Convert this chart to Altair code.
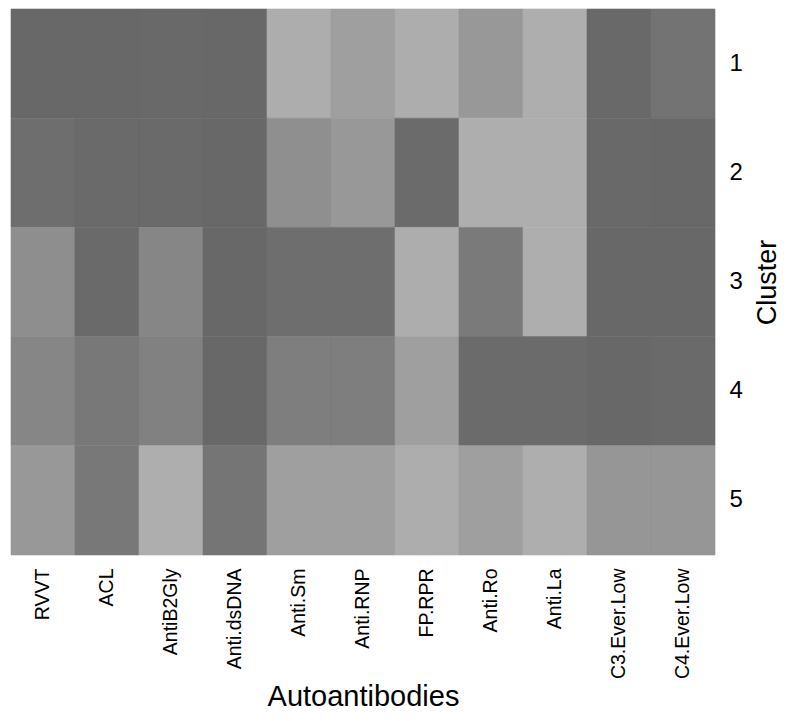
import altair as alt
import pandas as pd

antibodies = ["RVVT", "ACL", "AntiB2Gly", "Anti.dsDNA", "Anti.Sm", "Anti.RNP",
              "FP.RPR", "Anti.Ro", "Anti.La", "C3.Ever.Low", "C4.Ever.Low"]
clusters = ["1", "2", "3", "4", "5"]

c1 = [0.00, 0.00, 0.01, 0.00, 0.99, 0.80, 0.99, 0.69, 1.00, 0.01, 0.16]
c2 = [0.09, 0.03, 0.03, 0.00, 0.57, 0.69, 0.04, 1.00, 1.00, 0.01, 0.00]
c3 = [0.56, 0.03, 0.44, 0.00, 0.09, 0.09, 0.99, 0.26, 1.00, 0.00, 0.00]
c4 = [0.44, 0.24, 0.37, 0.00, 0.33, 0.33, 0.80, 0.04, 0.04, 0.00, 0.03]
c5 = [0.70, 0.24, 1.00, 0.20, 0.80, 0.80, 0.99, 0.80, 1.00, 0.67, 0.67]

rows = []
for cl, vals in zip(clusters, [c1, c2, c3, c4, c5]):
    for ab, v in zip(antibodies, vals):
        rows.append({"Cluster": cl, "Autoantibodies": ab, "value": v})
df = pd.DataFrame(rows)

font = "Liberation Sans"
gray_scale = alt.Scale(domain=[0, 1], range=["#686868", "#aeaeae"])

chart = alt.Chart(df).mark_rect(strokeWidth=0.6).encode(
    x=alt.X("Autoantibodies:N", sort=antibodies,
            scale=alt.Scale(paddingInner=0, paddingOuter=0),
            axis=alt.Axis(labelAngle=270, labelAlign="right", labelBaseline="middle",
                          labelFontSize=19.5, labelPadding=13, ticks=False, domain=False,
                          titleFontSize=29, titleFontWeight="normal", titlePadding=4,
                          labelColor="black", titleColor="black", labelFont=font, titleFont=font)),
    y=alt.Y("Cluster:N", sort=clusters,
            scale=alt.Scale(paddingInner=0, paddingOuter=0),
            axis=alt.Axis(orient="right", labelAngle=0, labelFontSize=24, labelPadding=14,
                          ticks=False, domain=False, titleFontSize=27, titleFontWeight="normal",
                          titleAngle=270, titleBaseline="top", titlePadding=12,
                          labelColor="black", titleColor="black",
                          labelFont=font, titleFont=font)),
    color=alt.Color("value:Q", scale=gray_scale, legend=None),
    stroke=alt.Stroke("value:Q", scale=gray_scale, legend=None),
).properties(
    width=704, height=546,
    padding={"left": 2, "top": 0, "right": 0, "bottom": 0},
).configure_view(stroke=None)

chart.save("out.html", embed_options={"renderer": "svg", "actions": False})
